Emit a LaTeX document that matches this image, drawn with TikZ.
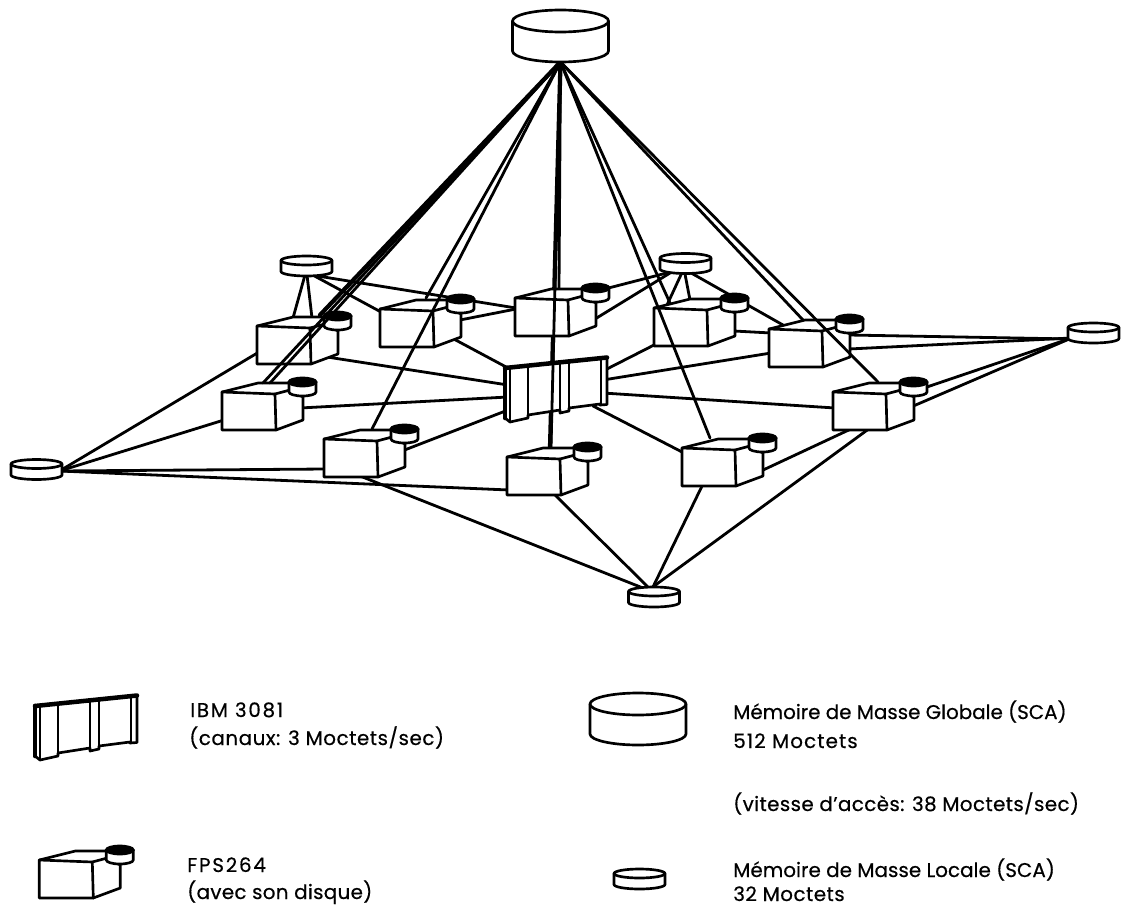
\documentclass[tikz,border=0pt]{standalone}
\usepackage{fontspec}
\setmainfont{Poppins}[FakeBold=0.5]
\usetikzlibrary{calc}
\newcommand{\spaced}[1]{\addfontfeatures{LetterSpace=#1}}
\newcommand{\drawdisk}[3]{% half width, half height, top ellipse radius
  \path[ink,fill=white] (-#1,{-#2+#3}) -- (-#1,{#2-#3}) arc[start angle=180,delta angle=-180,x radius=#1,y radius=#3] -- (#1,{-#2+#3}) -- cycle;
  \path[ink,fill=white] (0,{-#2+#3}) ellipse[x radius=#1,y radius=#3];
}
\tikzset{
  ink/.style={draw=black,line width=2pt,line join=round,line cap=round},
  link/.style={draw=black,line width=2.1pt,line cap=round},
  heavy/.style={draw=black,line width=3.2pt,line cap=round},
  globaldisk/.pic={\drawdisk{48}{26}{11}},
  localdisk/.pic={\drawdisk{25.5}{10}{4.5}},
  fps/.pic={
    \path[ink,fill=white] (0,0) -- (36,-9) -- (72,-9) -- (72,0) -- (81,5) -- (81,28) -- (54,38) -- (0,38) -- cycle;
    \path[ink] (0,0) -- (53,2) -- (54,38);
    \path[ink] (53,2) -- (68,-2);
    \path[ink,fill=white] (67,-10) -- (67,0) arc[start angle=180,delta angle=-180,x radius=13.5,y radius=4] -- (94,-10) -- cycle;
    \path[draw=black,fill=black,line width=2pt] (80.5,-10) ellipse[x radius=13.5,y radius=4];
  },
  ibm/.pic={
    \path[ink,fill=white] (0,0) -- (102,-10.5) -- (102,36.5) -- (95,37) -- (95,36) -- (64,40) -- (64,43) -- (55,45) -- (55,42) -- (23,47) -- (23,50) -- (5,54) -- (0,50) -- cycle;
    \path[ink] (5,1) -- (5,54);
    \path[ink] (23,-2) -- (23,50);
    \path[ink] (55,-5.5) -- (55,45);
    \path[ink] (64,-6.5) -- (64,43);
    \path[ink] (96,-10) -- (96,37);
    \path[draw=black,line width=3.4pt,line cap=round] (0,0) -- (102,-10.5);
    \path[draw=black,line width=3.4pt,line cap=round] (0,0) -- (0,50);
  },
  label/.style={anchor=base west,inner sep=0pt,font=\fontsize{14.9}{18}\selectfont}
}
\begin{document}
\begin{tikzpicture}[x=0.75pt,y=-0.75pt]
\useasboundingbox (0,0) rectangle (1128,906);
% anchors
\coordinate (g) at (560.5,36);
\coordinate (gs) at (560.5,62);
\coordinate (l1) at (306.5,266);
\coordinate (l2) at (685.5,263.5);
\coordinate (l3) at (1093.5,333);
\coordinate (l4) at (36.5,469.5);
\coordinate (l5) at (654,597);
\coordinate (i) at (505,368);
\coordinate (f1) at (257,326);
\coordinate (f2) at (222,392);
\coordinate (f3) at (324,439);
\coordinate (f4) at (507,457);
\coordinate (f5) at (380,309);
\coordinate (f6) at (515,298);
\coordinate (f7) at (654,308);
\coordinate (f8) at (769,329);
\coordinate (f9) at (833,392);
\coordinate (f10) at (682,448);
% local links
\path[link] ($(l1)+(-1.5,9)$) -- ($(f1)+(36,-8)$);
\path[link] ($(l1)+(0.5,9)$) -- ($(f1)+(55,-8)$);
\path[link] ($(l1)+(8,10)$) -- ($(f5)+(1,3)$);
\path[link] ($(l1)+(11,10)$) -- ($(f6)+(1,10)$);
\path[link] ($(f5)+(80,11)$) -- ($(f6)+(1,11)$);
\path[link] ($(f5)+(70,28)$) -- ($(i)+(3,0)$);
\path[link] ($(f1)+(70,31)$) -- ($(i)+(3,17)$);
\path[link] ($(f2)+(78,16)$) -- ($(i)+(3,29)$);
\path[link] ($(f3)+(78,12)$) -- ($(i)+(3,42)$);
\path[link] ($(f6)+(78,-6)$) -- ($(l2)+(-13,8)$);
\path[link] ($(f6)+(80,21)$) -- ($(l2)+(-13,8)$);
\path[link] ($(i)+(98,3)$) -- ($(f7)+(2,36)$);
\path[link] ($(i)+(98,12)$) -- ($(f8)+(2,24)$);
\path[link] ($(i)+(98,25)$) -- ($(f9)+(2,16)$);
\path[link] ($(i)+(88,38)$) -- ($(f10)+(2,5)$);
\path[link] ($(l2)+(-3,8)$) -- ($(f7)+(13,-3)$);
\path[link] ($(l2)+(-1,8)$) -- ($(f7)+(36,-8)$);
\path[link] ($(l2)+(3,8)$) -- ($(f8)+(14,-4)$);
\path[link] ($(f7)+(80,23)$) -- ($(f8)+(2,4)$);
\path[link] ($(f8)+(80,6)$) -- ($(l3)+(-22,6)$);
\path[link] ($(f8)+(80,20)$) -- ($(l3)+(-22,5)$);
\path[link] ($(f9)+(88,-3)$) -- ($(l3)+(-22,5)$);
\path[link] ($(f9)+(78,15)$) -- ($(l3)+(-22,5)$);
\path[link] ($(f9)+(20,36)$) -- ($(f10)+(79,23)$);
\path[link] ($(f9)+(37,36)$) -- ($(l5)+(-4,-8)$);
\path[link] ($(f10)+(21,36)$) -- ($(l5)+(-2,-8)$);
\path[link] ($(f4)+(48,38)$) -- ($(l5)+(-4,-8)$);
\path[link] ($(f3)+(36,37)$) -- ($(l5)+(-6,-7)$);
\path[link] ($(f1)+(2,26)$) -- ($(l4)+(23,1.5)$);
\path[link] ($(f2)+(2,28)$) -- ($(l4)+(23,1.5)$);
\path[link] ($(f3)+(2,30)$) -- ($(l4)+(23,1.5)$);
\path[link] ($(f4)+(2,33)$) -- ($(l4)+(23,1.5)$);
% thick run behind the IBM
\path[heavy] (gs) -- ($(f4)+(43,-9)$);
% stations
\foreach \n in {f1,f2,f3,f4,f5,f6,f7,f8,f9,f10} {\pic at (\n) {fps};}
\foreach \n in {l1,l2,l3,l4,l5} {\pic at (\n) {localdisk};}
\pic at (i) {ibm};
% global links
\path[heavy] (gs) -- ($(f1)+(63,-11)$);
\path[link] (gs) -- ($(f2)+(41,-9)$);
\path[link] (gs) -- ($(f2)+(48,-9)$);
\path[link] (gs) -- ($(f3)+(48,-10)$);
\path[link] (gs) -- ($(f5)+(46,-11)$);
\path[link] (gs) -- ($(f6)+(44,-10)$);
\path[link] (gs) -- ($(f4)+(44,-10)$);
\path[link] (gs) -- ($(f7)+(16,-5)$);
\path[link] (gs) -- ($(f10)+(28,-10)$);
\path[link] (gs) -- ($(f8)+(34,-9)$);
\path[link] (gs) -- ($(f9)+(45,-10)$);
\pic at (g) {globaldisk};
% legend
\coordinate (ki) at (35,706);
\coordinate (kf) at (39.3,860);
\coordinate (kg) at (638,719);
\coordinate (kl) at (639.5,879);
\pic at (ki) {ibm};
\pic at (kf) {fps};
\pic at (kg) {globaldisk};
\pic at (kl) {localdisk};
\node[label] (t1) at (190,717) {\spaced{8.7}IBM 3081};
\node[label] (t2) at (189,745) {\spaced{2.8}(canaux: 3 Moctets/sec)};
\node[label] (t3) at (187,872) {\spaced{9}FPS264};
\node[label] (t4) at (187,899) {\spaced{1.6}(avec son disque)};
\node[label] (t5) at (733,719) {Mémoire de Masse Globale (SCA)};
\node[label] (t6) at (733,748) {\spaced{5.5}512 Moctets};
\node[label] (t7) at (733,811) {\spaced{2}(vitesse d'accès: 38 Moctets/sec)};
\node[label] (t8) at (733,877) {\spaced{0.3}Mémoire de Masse Locale (SCA)};
\node[label] (t9) at (733,901) {\spaced{2.5}32 Moctets};
\end{tikzpicture}
\end{document}
